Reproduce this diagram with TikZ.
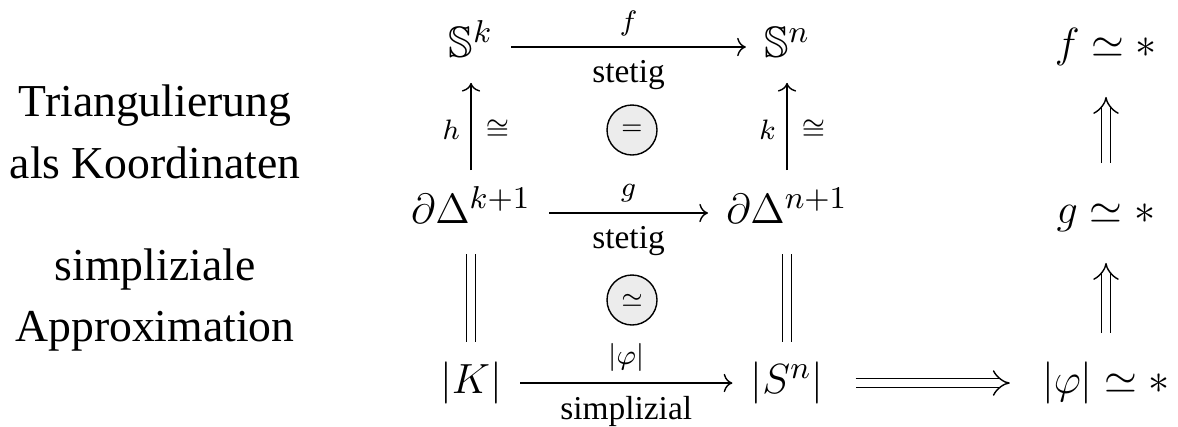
\documentclass[tikz,border=0pt]{standalone}
\usepackage{amsmath, amssymb}
\usepackage{fontspec}
\setmainfont{Liberation Serif}
\usepackage{tikz}
\usetikzlibrary{arrows.meta}
\definecolor{cellgray}{RGB}{236, 236, 236}

\begin{document}
\begin{tikzpicture}[
  obj/.style={inner xsep=5pt, inner ysep=4pt, text height=9pt, text depth=3pt, font=\fontsize{12.5}{14}\selectfont},
  side/.style={align=center, font=\fontsize{13}{17.5}\selectfont},
  lbl/.style={font=\fontsize{9.5}{11}\selectfont, inner sep=3.5pt},
  mlbl/.style={font=\fontsize{8}{10}\selectfont, inner sep=3pt},
  arr/.style={-{Computer Modern Rightarrow}},
  eqline/.style={double, double distance=2pt, shorten <=1.5pt, shorten >=1.5pt},
  impl/.style={double, double distance=2.2pt, -{Implies}, shorten <=4pt, shorten >=4pt},
  cell/.style={circle, draw, fill=cellgray, minimum size=0.5cm, inner sep=0pt, font=\fontsize{7.5}{9}\selectfont},
]
  \useasboundingbox (0,0) rectangle (11.78,4.26);

  % linke Spalte: Beschriftung der Schritte
  \node[side] (tri) at (1.55,2.94) {Triangulierung\\als Koordinaten};
  \node[side] (app) at (1.55,1.26) {simpliziale\\Approximation};

  % Diagramm
  \node[obj] (sk) at (4.71,3.79) {$\mathbb{S}^k$};
  \node[obj] (sn) at (7.87,3.79) {$\mathbb{S}^n$};
  \node[obj] (dk) at (4.71,2.13) {$\partial\Delta^{k+1}$};
  \node[obj] (dn) at (7.87,2.13) {$\partial\Delta^{n+1}$};
  \node[obj] (kk) at (4.71,0.43) {$|K|$};
  \node[obj] (ss) at (7.87,0.43) {$|S^n|$};

  \node[cell] (c1) at (6.32,2.96) {$=$};
  \node[cell] (c2) at (6.32,1.26) {$\simeq$};

  % rechte Spalte: Folgerungen
  \node[obj] (fh) at (11.06,3.79) {$f \simeq *$};
  \node[obj] (gh) at (11.06,2.13) {$g \simeq *$};
  \node[obj] (ph) at (11.06,0.43) {$|\varphi| \simeq *$};

  \draw[arr] (sk) -- node[above, mlbl] {$f$} node[below, lbl] {stetig} (sn);
  \draw[arr] (dk) -- node[above, mlbl] {$g$} node[below, lbl] {stetig} (dn);
  \draw[arr] (kk) -- node[above, mlbl] {$|\varphi|$} node[below, lbl] {simplizial} (ss);

  \draw[arr, shorten <=2pt] (dk) -- node[left, mlbl] {$h$} node[right, mlbl, inner sep=4pt] {$\cong$} (sk);
  \draw[arr, shorten <=2pt] (dn) -- node[left, mlbl] {$k$} node[right, mlbl, inner sep=4pt] {$\cong$} (sn);
  \draw[eqline] (kk) -- (dk);
  \draw[eqline] (ss) -- (dn);

  \draw[impl] (ss) -- (ph);
  \draw[impl] (ph) -- (gh);
  \draw[impl] (gh) -- (fh);
\end{tikzpicture}
\end{document}
